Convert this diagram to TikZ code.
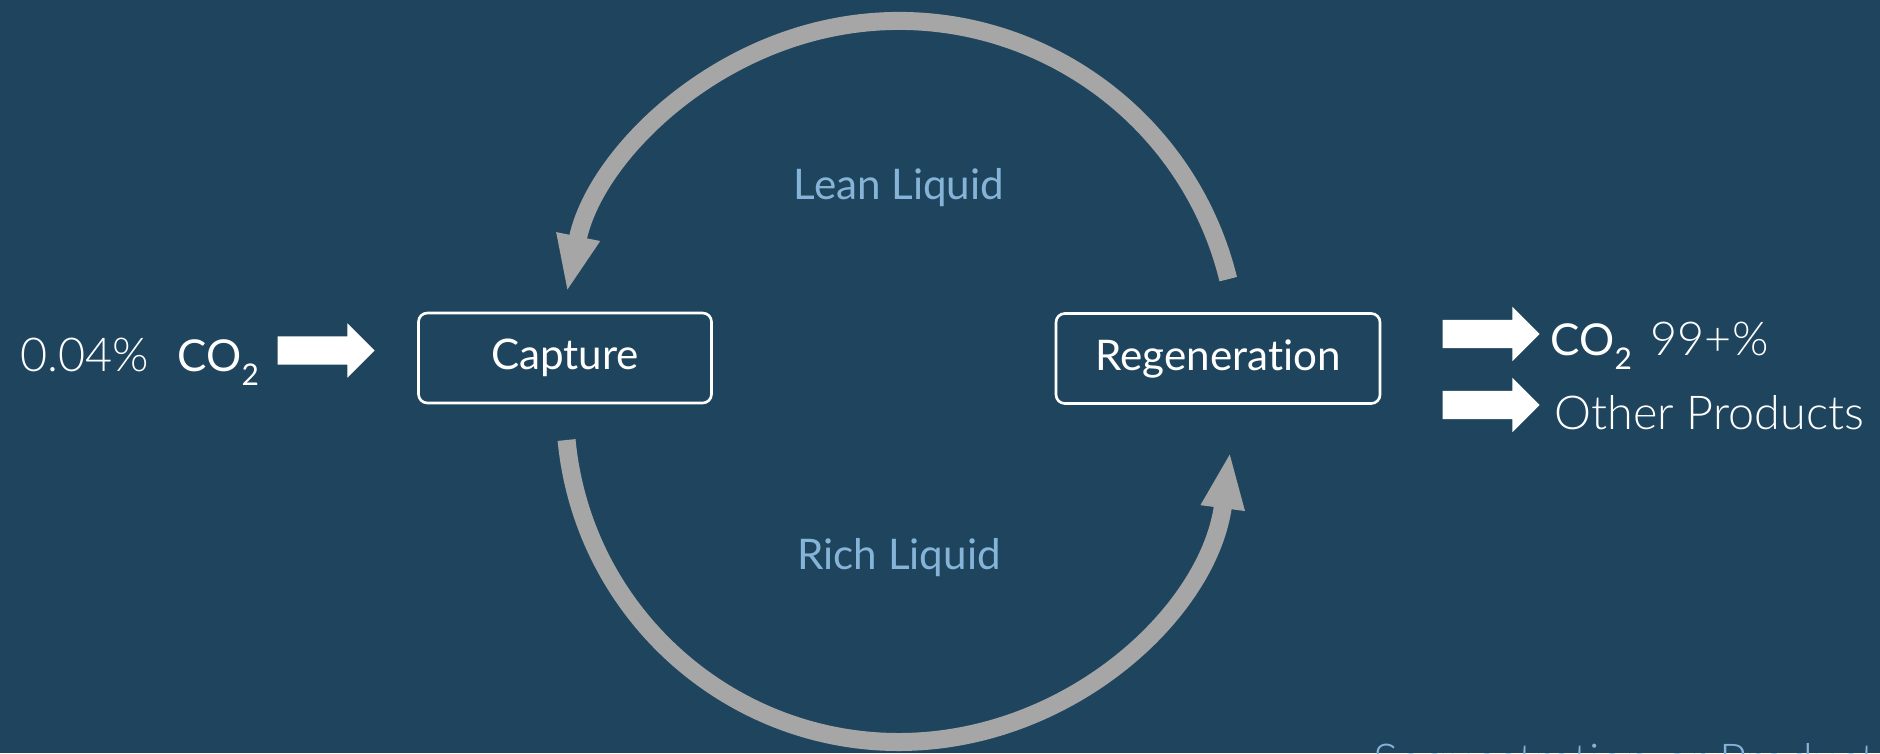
\documentclass[tikz,border=0pt]{standalone}
\usepackage{fontspec}
\setmainfont{Lato}[Ligatures=NoCommon]
\newfontfamily\thinfont{Lato Light}[Ligatures=NoCommon]
\usetikzlibrary{arrows.meta,shapes.arrows}
\definecolor{slate}{RGB}{31,69,94}
\definecolor{loopgray}{RGB}{166,166,166}
\definecolor{paleblue}{RGB}{133,180,216}
\newcommand\cotwo{CO\raisebox{-0.32em}{\fontsize{8.5}{9}\selectfont 2}}

\begin{document}
\begin{tikzpicture}
[
stage/.style={draw=white,line width=0.75pt,rounded corners=2.5pt,minimum width=#1,minimum height=0.9cm,text=white,font=\fontsize{12}{14}\selectfont},
flow/.style={draw=loopgray,line width=0.18cm,-{Triangle[length=0.57cm,width=0.40cm]}},
fat/.style={single arrow,fill=white,inner xsep=0pt,inner ysep=0.135cm,minimum height=0.97cm,minimum width=0.53cm,single arrow head extend=0.13cm},
stream/.style={text=paleblue,inner sep=0pt,font=\fontsize{12}{14}\selectfont},
plain/.style={text=white,inner sep=0pt,font=\fontsize{12.5}{15}\selectfont},
thin/.style={font=\thinfont\fontsize{13.3}{16}\selectfont},
]
\useasboundingbox (0,0) rectangle (18.8,7.53);
\fill[slate] (0,0) rectangle (18.8,7.53);

\node[stage=2.93cm] (capture) at (5.65,3.95) {Capture};
\node[stage=3.24cm] (regen) at (12.18,3.945) {Regeneration};

\node[plain,thin,anchor=base west] (air) at (0.20,3.82) {0.04\%};
\node[plain,anchor=base west] (feed) at (1.77,3.82) {\cotwo};
\node[fat] (inarrow) at (3.19,4.025) {};

\node[fat] (outco) at (14.84,4.19) {};
\node[fat] (outprod) at (14.84,3.48) {};
\node[plain,anchor=base west] (pure) at (15.50,3.98) {\cotwo};
\node[plain,thin,anchor=base west] (purity) at (16.50,3.98) {99+\%};
\node[plain,thin,anchor=base west] (other) at (15.54,3.24) {Other Products};

\node[stream,anchor=base] (lean) at (8.99,5.53) {Lean Liquid};
\node[stream,anchor=base] (rich) at (8.99,1.84) {Rich Liquid};
\node[stream,thin,anchor=north west] (fate) at (13.73,0.10) {Sequestration or Products};

\coordinate (upper) at (8.99,3.93);
\coordinate (lower) at (8.99,3.45);
\draw[flow] ([shift={(13.8:3.39cm)}]upper) arc[start angle=13.8,end angle=168.5,radius=3.39cm];
\draw[flow] ([shift={(185.5:3.34cm)}]lower) arc[start angle=185.5,end angle=352.5,radius=3.34cm];

\end{tikzpicture}
\end{document}
